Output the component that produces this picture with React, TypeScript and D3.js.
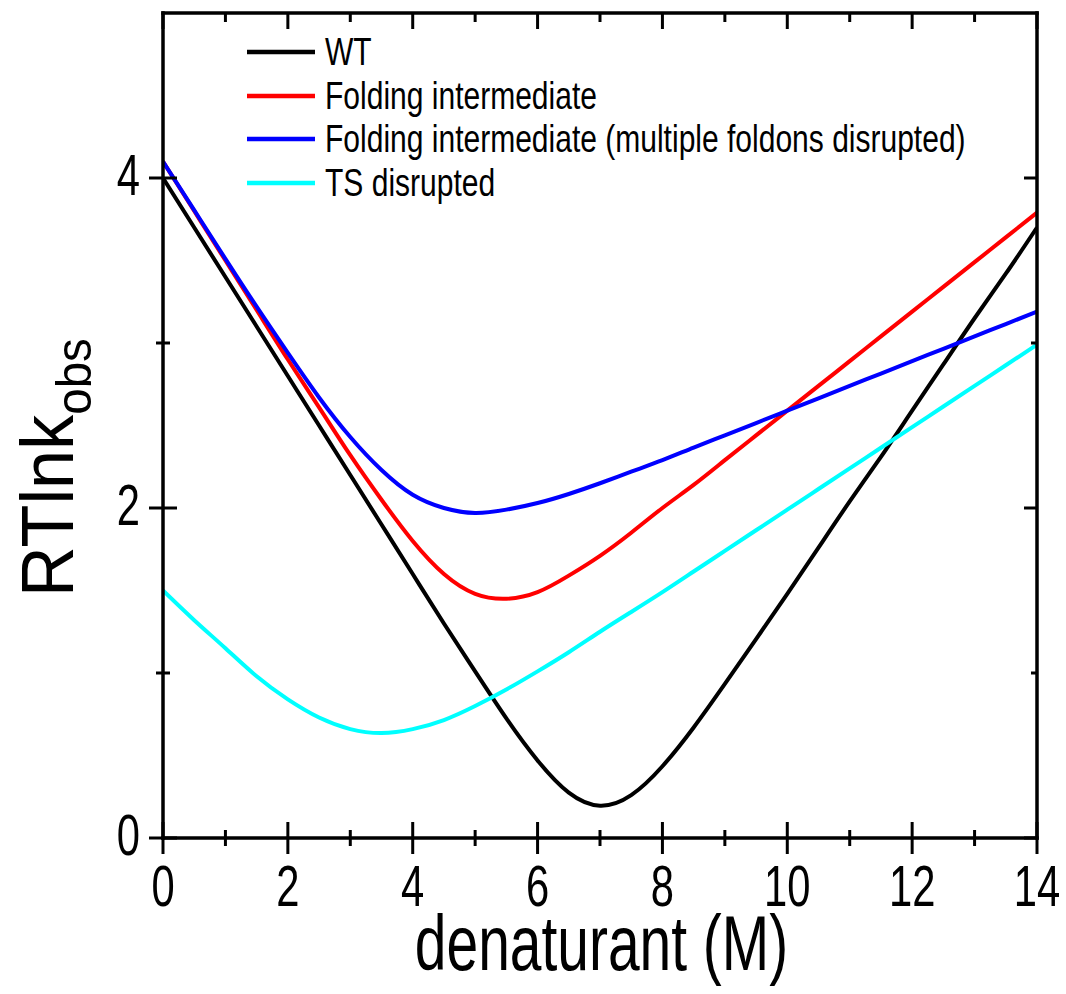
import React from "react";
import * as d3 from "d3";

const denaturant = [0, 0.5, 1, 1.5, 2, 2.5, 3, 3.5, 4, 4.5, 5, 5.5, 6, 6.5, 7, 7.5, 8, 8.5, 9, 9.5, 10, 10.5, 11, 11.5, 12, 12.5, 13, 13.5, 14];
const wt = [4.0, 3.7, 3.4, 3.1, 2.8, 2.5, 2.2, 1.9, 1.6, 1.3, 1.01, 0.725, 0.47, 0.275, 0.196, 0.26, 0.435, 0.67, 0.934, 1.205, 1.48, 1.76, 2.04, 2.31, 2.59, 2.87, 3.15, 3.42, 3.7];
const foldingIntermediate = [4.1, 3.8, 3.5, 3.2, 2.9, 2.61, 2.32, 2.05, 1.8, 1.6, 1.48, 1.45, 1.49, 1.59, 1.71, 1.85, 2.0, 2.14, 2.29, 2.44, 2.59, 2.74, 2.89, 3.04, 3.19, 3.34, 3.49, 3.64, 3.79];
const multipleFoldons = [4.1, 3.805, 3.51, 3.22, 2.94, 2.67, 2.43, 2.23, 2.08, 2.0, 1.97, 1.99, 2.03, 2.085, 2.15, 2.22, 2.29, 2.366, 2.44, 2.515, 2.59, 2.665, 2.74, 2.815, 2.89, 2.965, 3.04, 3.115, 3.19];
const tsDisrupted = [1.5, 1.32, 1.15, 0.98, 0.84, 0.73, 0.66, 0.636, 0.66, 0.715, 0.8, 0.9, 1.01, 1.126, 1.25, 1.37, 1.49, 1.615, 1.74, 1.865, 1.99, 2.115, 2.24, 2.365, 2.49, 2.615, 2.74, 2.865, 2.99];

const seriesNames = ["WT", "Folding intermediate", "Folding intermediate (multiple foldons disrupted)", "TS disrupted"];
const seriesColors = ["#000000", "#ff0000", "#0000ff", "#00ffff"];
const seriesValues = [wt, foldingIntermediate, multipleFoldons, tsDisrupted];

const xMajorTicks = [0, 2, 4, 6, 8, 10, 12, 14];
const xMinorTicks = [1, 3, 5, 7, 9, 11, 13];
const yMajorTicks = [0, 2, 4];
const yMinorTicks = [1, 3];

const W = 1066;
const H = 994;
const left = 163, right = 1037, top = 13, bottom = 838;
const FONT = "'Liberation Sans', Arial, Helvetica, sans-serif";

export default function App() {
  const x = d3.scaleLinear().domain([0, 14]).range([left, right]);
  const y = d3.scaleLinear().domain([0, 5]).range([bottom, top]);
  const line = d3
    .line<number>()
    .x((_, i) => x(denaturant[i]))
    .y((d) => y(d))
    .curve(d3.curveNatural);

  const axisW = 3.5;
  const legendX0 = 247, legendX1 = 315, legendTextX = 325;
  const legendY = [52, 96, 139, 183];

  return (
    <svg width={W} height={H} style={{ position: "absolute", left: 0, top: 0, display: "block", background: "#fff" }}>
      <rect x={0} y={0} width={W} height={H} fill="#fff" />
      <defs>
        <clipPath id="plotclip">
          <rect x={left} y={top} width={right - left} height={bottom - top} />
        </clipPath>
      </defs>
      <g clipPath="url(#plotclip)">
        {seriesValues.map((vals, i) => (
          <path key={i} d={line(vals) || ""} fill="none" stroke={seriesColors[i]} strokeWidth={4} strokeLinejoin="round" />
        ))}
      </g>

      {/* frame */}
      <g stroke="#000" strokeWidth={axisW} strokeLinecap="square">
        <line x1={left} y1={bottom} x2={right} y2={bottom} />
        <line x1={left} y1={top} x2={right} y2={top} />
        <line x1={left} y1={top} x2={left} y2={bottom} />
        <line x1={right} y1={top} x2={right} y2={bottom} />
      </g>

      {/* ticks */}
      <g stroke="#000" strokeWidth={3}>
        {xMajorTicks.map((t) => (
          <g key={"xM" + t}>
            <line x1={x(t)} x2={x(t)} y1={bottom - 16} y2={bottom + 16} />
            <line x1={x(t)} x2={x(t)} y1={top} y2={top + 16} />
          </g>
        ))}
        {xMinorTicks.map((t) => (
          <g key={"xm" + t}>
            <line x1={x(t)} x2={x(t)} y1={bottom - 8} y2={bottom + 8} />
            <line x1={x(t)} x2={x(t)} y1={top} y2={top + 9} />
          </g>
        ))}
        {yMajorTicks.map((t) => (
          <g key={"yM" + t}>
            <line x1={left - 14} x2={left + 14} y1={y(t)} y2={y(t)} />
            <line x1={right - 13} x2={right} y1={y(t)} y2={y(t)} />
          </g>
        ))}
        {yMinorTicks.map((t) => (
          <g key={"ym" + t}>
            <line x1={left - 7} x2={left + 7} y1={y(t)} y2={y(t)} />
            <line x1={right - 6} x2={right} y1={y(t)} y2={y(t)} />
          </g>
        ))}
      </g>

      {/* tick labels */}
      <g fontFamily={FONT} fontSize={58} fill="#000">
        {xMajorTicks.map((t) => (
          <text key={"xl" + t} textAnchor="middle" transform={`translate(${x(t)},906) scale(0.72,1)`}>
            {t}
          </text>
        ))}
        {yMajorTicks.map((t) => (
          <text key={"yl" + t} textAnchor="end" transform={`translate(140,${y(t) + 17}) scale(0.72,1)`}>
            {t}
          </text>
        ))}
      </g>

      {/* axis titles */}
      <text fontFamily={FONT} fontSize={78} textAnchor="middle" transform={`translate(${(413 + 790) / 2},970) scale(0.73,1)`}>
        denaturant (M)
      </text>
      <text fontFamily={FONT} fontSize={74} transform="translate(73,597) rotate(-90) scale(0.95,1)">
        RTlnk
        <tspan fontSize={50} dy={18}>obs</tspan>
      </text>

      {/* legend */}
      {seriesNames.map((name, i) => (
        <g key={"lg" + i}>
          <line x1={legendX0} x2={legendX1} y1={legendY[i]} y2={legendY[i]} stroke={seriesColors[i]} strokeWidth={4.5} />
          <text fontFamily={FONT} fontSize={38} transform={`translate(${legendTextX},${legendY[i] + 13}) scale(0.79,1)`}>
            {name}
          </text>
        </g>
      ))}
    </svg>
  );
}
